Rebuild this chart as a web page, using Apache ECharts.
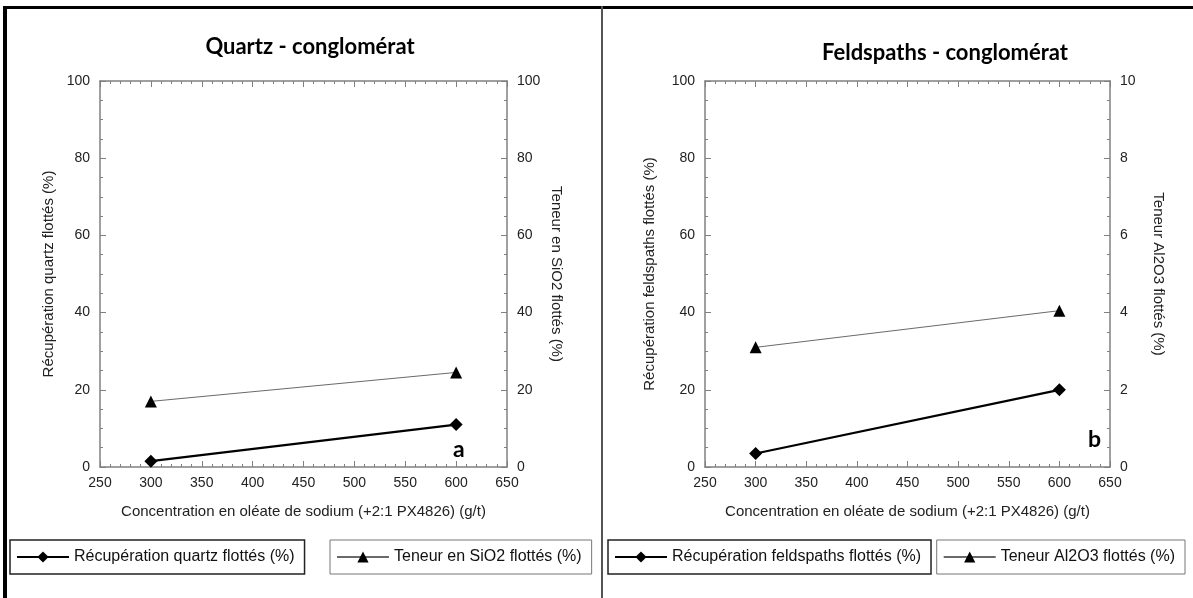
<!DOCTYPE html>
<html><head><meta charset="utf-8">
<script src="https://cdn.jsdelivr.net/npm/echarts@6/dist/echarts.min.js"></script>
<style>html,body{margin:0;padding:0;background:#fff}#c{width:1193px;height:598px}</style>
</head><body><div id="c"></div>
<script>
const xCategories = [300, 600];
const quartzRecovery = [1.5, 11];
const sio2Grade = [17, 24.5];
const feldsparRecovery = [3.5, 20];
const al2o3Grade = [3.1, 4.05];
const titles = ['Quartz - conglomérat', 'Feldspaths - conglomérat'];
const xName = 'Concentration en oléate de sodium (+2:1 PX4826) (g/t)';
const names = ['Récupération quartz flottés (%)', 'Teneur en SiO2 flottés (%)',
               'Récupération feldspaths flottés (%)', 'Teneur Al2O3 flottés (%)'];

const FONT = '"Liberation Sans", Arial, sans-serif';
const AX = '#808080';
const chart = echarts.init(document.getElementById('c'), null, {renderer:'canvas'});

const grids = [
  {left:100, top:81, width:407, height:386},
  {left:705, top:81, width:405, height:386}
];
function xAx(g, pos, showLbl, name){
  return {type:'value', gridIndex:g, position:pos, min:250, max:650, interval:50,
    axisLine:{show:true, onZero:false, lineStyle:{color:AX, width:1.5}},
    axisTick:{show:true, inside:true, length:6, lineStyle:{color:AX}},
    minorTick:{show:true, splitNumber:5, length:3, lineStyle:{color:AX}},
    splitLine:{show:false},
    axisLabel:{show:showLbl, color:'#222', fontSize:14, fontFamily:FONT, margin:9},
    name: name||'', nameLocation:'middle', nameGap:37,
    nameTextStyle:{color:'#222', fontSize:15, fontFamily:FONT}};
}
function yAx(g, pos, max, interval, name, rot, gap){
  return {type:'value', gridIndex:g, position:pos, min:0, max:max, interval:interval,
    axisLine:{show:true, onZero:false, lineStyle:{color:AX, width:1.5}},
    axisTick:{show:true, inside:true, length:6, lineStyle:{color:AX}},
    minorTick:{show:true, splitNumber:4, length:3, lineStyle:{color:AX}},
    splitLine:{show:false},
    axisLabel:{color:'#222', fontSize:14, fontFamily:FONT, margin:10},
    name:name, nameLocation:'middle', nameRotate:rot, nameGap:gap,
    nameTextStyle:{color:'#222', fontSize:15, fontFamily:FONT}};
}
const xAxis = [
  xAx(0,'bottom',true,xName), xAx(0,'top',false),
  xAx(1,'bottom',true,xName), xAx(1,'top',false)
];
const yAxis = [
  yAx(0,'left',100,20,names[0],90,44),
  yAx(0,'right',100,20,names[1],-90,42),
  yAx(1,'left',100,20,names[2],90,48),
  yAx(1,'right',10,2,names[3],-90,41)
];
function pts(vals){ return xCategories.map((x,i)=>[x, vals[i]]); }
const thick = {type:'line', symbol:'diamond', symbolSize:13, itemStyle:{color:'#000'},
  lineStyle:{color:'#000', width:2.2}, animation:false};
const thin = {type:'line', symbol:'triangle', symbolSize:12, itemStyle:{color:'#000'},
  lineStyle:{color:'#6a6a6a', width:1}, animation:false};
const series = [
  Object.assign({name:names[0], xAxisIndex:0, yAxisIndex:0, data:pts(quartzRecovery)}, thick),
  Object.assign({name:names[1], xAxisIndex:0, yAxisIndex:1, data:pts(sio2Grade)}, thin),
  Object.assign({name:names[2], xAxisIndex:2, yAxisIndex:2, data:pts(feldsparRecovery)}, thick),
  Object.assign({name:names[3], xAxisIndex:2, yAxisIndex:3, data:pts(al2o3Grade)}, thin)
];
function leg(name, pos, bw){
  return Object.assign({data:[name], top:540, orient:'horizontal',
    borderColor: bw>1 ? '#222' : '#777', borderWidth:bw, padding:[9,10,9,6],
    itemWidth:52, itemHeight:14, itemGap:0, selectedMode:false,
    textStyle:{color:'#111', fontSize:16, fontFamily:FONT}}, pos);
}
const legend = [
  leg(names[0], {left:10}, 1.5), leg(names[1], {left:330}, 1),
  leg(names[2], {left:608}, 1.5), leg(names[3], {right:8}, 1)
];
const TF = {fontFamily:'Lato, sans-serif', fontWeight:700, fontSize:22, color:'#000'};
const title = [
  {text:titles[0], left:305, top:31, textAlign:'center', textStyle:TF},
  {text:titles[1], left:940, top:37, textAlign:'center', textStyle:TF}
];
const graphic = [
  {type:'rect', shape:{x:3, y:6, width:4, height:592}, style:{fill:'#000'}},
  {type:'rect', shape:{x:3, y:6, width:1190, height:3}, style:{fill:'#000'}},
  {type:'rect', shape:{x:601, y:6, width:2, height:592}, style:{fill:'#555'}},
  {type:'text', left:453, top:438, style:{text:'a', font:'700 23px Lato, sans-serif', fill:'#000'}},
  {type:'text', left:1088, top:428, style:{text:'b', font:'700 23px Lato, sans-serif', fill:'#000'}}
];
chart.setOption({backgroundColor:'#fff', animation:false, title, grid:grids, xAxis, yAxis, series, legend, graphic});
</script></body></html>
